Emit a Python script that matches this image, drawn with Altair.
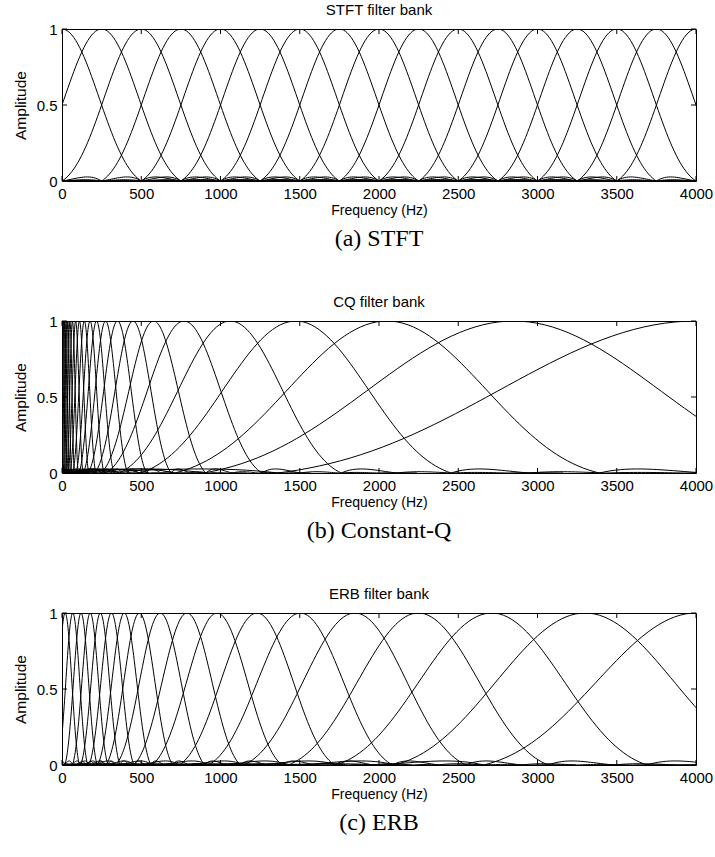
import altair as alt
import numpy as np
import pandas as pd

# ---------------- data ----------------
FREQ_TICKS = [0, 500, 1000, 1500, 2000, 2500, 3000, 3500, 4000]
AMP_TICKS = [0, 0.5, 1]

# STFT: uniformly spaced bins (Hz) and bin width (Hz)
STFT_CENTERS = [0, 250, 500, 750, 1000, 1250, 1500, 1750, 2000,
                2250, 2500, 2750, 3000, 3250, 3500, 3750, 4000]
STFT_WIDTHS = [250, 250, 250, 250, 250, 250, 250, 250, 250,
               250, 250, 250, 250, 250, 250, 250, 250]

# Constant-Q: peak frequencies (Hz) and widths (Hz)
CQ_CENTERS = [4000, 2850, 2050, 1475, 1062, 770, 578, 448, 350, 275,
              218, 177, 141, 110, 86, 66, 50, 37, 26, 17, 10]
CQ_WIDTHS = [1320, 980, 670, 490, 350, 245, 165, 120, 92, 70,
             55, 44, 36, 29, 23, 18, 14, 11, 9, 7, 5]

# ERB: peak frequencies (Hz) and widths (Hz)
ERB_CENTERS = [4000, 3300, 2711, 2248, 1848, 1504, 1230, 978, 789, 620,
               488, 393, 312, 242, 178, 120, 68, 20]
ERB_WIDTHS = [670, 600, 490, 410, 350, 290, 245, 205, 168, 140,
              105, 84, 71, 62, 56, 51, 47, 45]

TITLES = ["STFT filter bank", "CQ filter bank", "ERB filter bank"]
CAPTIONS = ["(a) STFT", "(b) Constant-Q", "(c) ERB"]

W, H = 634, 152
SANS = "Liberation Sans"
SERIF = "Liberation Serif"


def hann_response(u):
    """Magnitude response of a Hann window (frequency in bins)."""
    u = np.asarray(u, dtype=float)
    out = np.empty_like(u)
    near = np.isclose(np.abs(u), 1.0)
    out[near] = 0.5
    v = u[~near]
    out[~near] = np.abs(np.sinc(v) / (1.0 - v ** 2))
    return out


U = np.linspace(-6, 6, 241)
A = hann_response(U)


def bank_frame(centers, widths):
    parts = []
    for k, (c, w) in enumerate(zip(centers, widths)):
        parts.append(pd.DataFrame({"k": k, "f": c + U * w, "a": A}))
    return pd.concat(parts, ignore_index=True)


def panel(centers, widths, title, caption):
    df = bank_frame(centers, widths)
    x = alt.X("f:Q",
              scale=alt.Scale(domain=[0, 4000], nice=False, zero=False),
              axis=alt.Axis(values=FREQ_TICKS, format="d",
                            title="Frequency (Hz)",
                            ticks=False, domain=False, grid=False,
                            labelFlush=False, labelPadding=5,
                            labelFontSize=15, titleFontSize=14,
                            titlePadding=2))
    y = alt.Y("a:Q",
              scale=alt.Scale(domain=[0, 1], nice=False, zero=False),
              axis=alt.Axis(values=AMP_TICKS, format="~g", title="Amplitude",
                            ticks=False, domain=False, grid=False,
                            labelFlush=False, labelPadding=5,
                            labelFontSize=15, titleFontSize=15.5,
                            titlePadding=8))
    lines = alt.Chart(df).mark_line(color="black", strokeWidth=1, clip=True).encode(
        x=x, y=y, detail="k:N")

    xt = pd.DataFrame({"f": FREQ_TICKS})
    yt = pd.DataFrame({"a": AMP_TICKS})
    top_t = alt.Chart(xt).mark_rule(color="black").encode(
        x=x, y=alt.value(0), y2=alt.value(5))
    bot_t = alt.Chart(xt).mark_rule(color="black").encode(
        x=x, y=alt.value(H - 5), y2=alt.value(H))
    left_t = alt.Chart(yt).mark_rule(color="black").encode(
        y=y, x=alt.value(0), x2=alt.value(5))
    right_t = alt.Chart(yt).mark_rule(color="black").encode(
        y=y, x=alt.value(W - 5), x2=alt.value(W))

    cap = alt.Chart(pd.DataFrame({"caption": [caption]})).mark_text(
        font=SERIF, fontSize=24, color="black", align="center",
        baseline="middle").encode(
        text="caption:N", x=alt.value(W / 2), y=alt.value(H + 58))

    return alt.layer(lines, top_t, bot_t, left_t, right_t, cap).properties(
        width=W, height=H,
        title=alt.TitleParams(title, font=SANS, fontSize=15,
                              fontWeight="normal", anchor="middle",
                              frame="group", offset=4, color="black"))


chart = alt.vconcat(
    panel(STFT_CENTERS, STFT_WIDTHS, TITLES[0], CAPTIONS[0]),
    panel(CQ_CENTERS, CQ_WIDTHS, TITLES[1], CAPTIONS[1]),
    panel(ERB_CENTERS, ERB_WIDTHS, TITLES[2], CAPTIONS[2]),
    spacing=42,
).properties(
    padding={"left": 12, "top": 2, "right": 0, "bottom": 5},
    background="white",
).configure_view(
    stroke="black", strokeWidth=1
).configure_axis(
    labelFont=SANS, labelColor="black",
    titleFont=SANS, titleFontWeight="normal", titleColor="black",
)

chart.save("out.html", embed_options={"renderer": "svg", "actions": False})
